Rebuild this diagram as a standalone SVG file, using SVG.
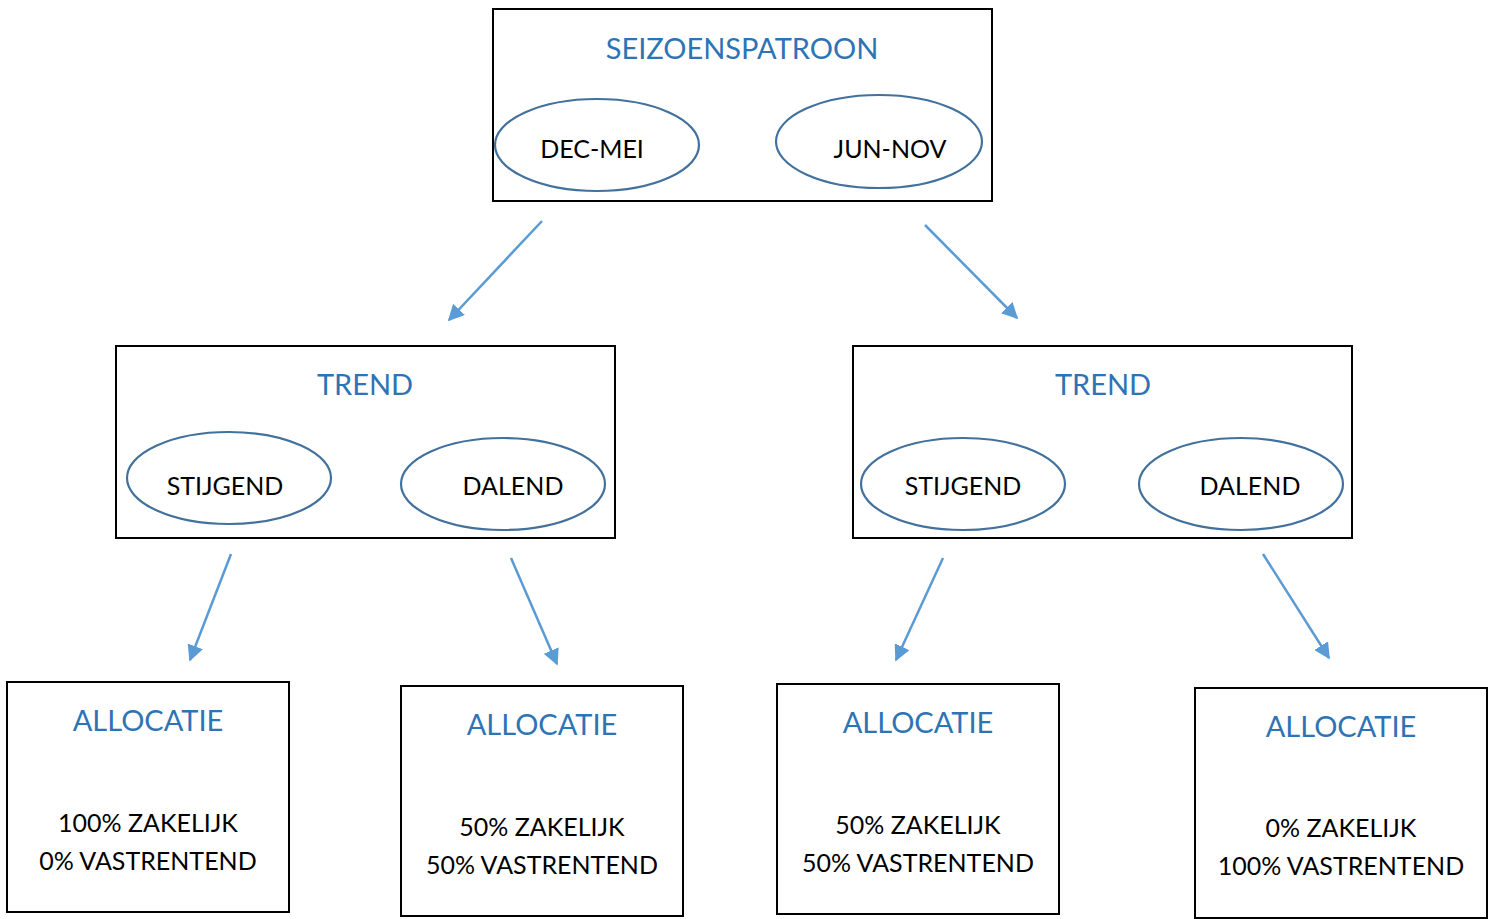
<svg xmlns="http://www.w3.org/2000/svg" width="1494" height="919" viewBox="0 0 1494 919">
<defs>
<style>
.box{fill:#fff;stroke:#000;stroke-width:2}
.ell{fill:#fff;stroke:#41719C;stroke-width:2.2}
.title{font-family:Lato,"Liberation Sans",sans-serif;font-size:29px;fill:#2E74B5;text-anchor:middle}
.lbl{font-family:Lato,"Liberation Sans",sans-serif;font-size:25px;fill:#000;text-anchor:middle}
.arr{stroke:#5B9BD5;stroke-width:2.5;fill:none;marker-end:url(#ah)}
</style>
<marker id="ah" viewBox="0 0 10 10" refX="9" refY="5" markerWidth="6.5" markerHeight="6.5" orient="auto" markerUnits="strokeWidth">
<path d="M0,0 L10,5 L0,10 z" fill="#5B9BD5"/>
</marker>
</defs>
<rect width="1494" height="919" fill="#fff"/>
<g id="seizoenspatroon">
<rect class="box" x="493" y="9" width="499" height="192"/>
<text class="title" x="742" y="59">SEIZOENSPATROON</text>
<ellipse class="ell" cx="597" cy="145" rx="102" ry="46"/>
<text class="lbl" x="592" y="158">DEC-MEI</text>
<ellipse class="ell" cx="879" cy="141.5" rx="103" ry="46.5"/>
<text class="lbl" x="890" y="158">JUN-NOV</text>
</g>
<g id="trend-left">
<rect class="box" x="116" y="346" width="499" height="192"/>
<text class="title" x="365" y="395">TREND</text>
<ellipse class="ell" cx="229" cy="478" rx="102" ry="46"/>
<text class="lbl" x="225" y="495">STIJGEND</text>
<ellipse class="ell" cx="503" cy="484" rx="102" ry="46"/>
<text class="lbl" x="513" y="495">DALEND</text>
</g>
<g id="trend-right">
<rect class="box" x="853" y="346" width="499" height="192"/>
<text class="title" x="1103" y="395">TREND</text>
<ellipse class="ell" cx="963" cy="484" rx="102" ry="46"/>
<text class="lbl" x="963" y="495">STIJGEND</text>
<ellipse class="ell" cx="1241" cy="484" rx="102" ry="46"/>
<text class="lbl" x="1250" y="495">DALEND</text>
</g>
<g id="alloc1">
<rect class="box" x="7" y="682" width="282" height="230"/>
<text class="title" x="148" y="731">ALLOCATIE</text>
<text class="lbl" x="148" y="832">100% ZAKELIJK</text>
<text class="lbl" x="148" y="870">0% VASTRENTEND</text>
</g>
<g id="alloc2">
<rect class="box" x="401" y="686" width="282" height="230"/>
<text class="title" x="542" y="735">ALLOCATIE</text>
<text class="lbl" x="542" y="836">50% ZAKELIJK</text>
<text class="lbl" x="542" y="874">50% VASTRENTEND</text>
</g>
<g id="alloc3">
<rect class="box" x="777" y="684" width="282" height="230"/>
<text class="title" x="918" y="733">ALLOCATIE</text>
<text class="lbl" x="918" y="834">50% ZAKELIJK</text>
<text class="lbl" x="918" y="872">50% VASTRENTEND</text>
</g>
<g id="alloc4">
<rect class="box" x="1195" y="688" width="292" height="230"/>
<text class="title" x="1341" y="737">ALLOCATIE</text>
<text class="lbl" x="1341" y="837">0% ZAKELIJK</text>
<text class="lbl" x="1341" y="875">100% VASTRENTEND</text>
</g>
<g id="connectors">
<line class="arr" x1="542" y1="221" x2="449" y2="320"/>
<line class="arr" x1="925" y1="225" x2="1017" y2="318"/>
<line class="arr" x1="231" y1="554" x2="190" y2="660"/>
<line class="arr" x1="511" y1="558" x2="557" y2="664"/>
<line class="arr" x1="943" y1="558" x2="896" y2="660"/>
<line class="arr" x1="1263" y1="554" x2="1329" y2="658"/>
</g>
</svg>
